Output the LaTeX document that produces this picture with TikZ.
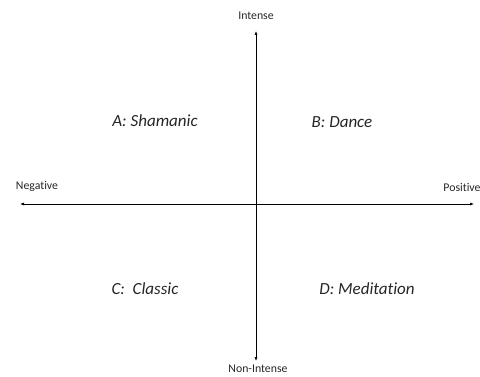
\documentclass[tikz,border=0pt]{standalone}
\usepackage{fontspec}
\setmainfont[Ligatures=NoCommon]{Carlito}
\usetikzlibrary{arrows.meta}
\begin{document}
\begin{tikzpicture}[x=1pt, y=-1pt,
    axislabel/.style={font=\fontsize{11.8}{14}\selectfont, text=black!85},
    quadlabel/.style={font=\fontsize{17}{20}\selectfont\itshape, text=black!85},
    axis/.style={{Latex[length=4pt,width=3pt]}-{Latex[length=4pt,width=3pt]}, line width=0.6pt}]
        \useasboundingbox (0,0) rectangle (480,377);

        % Axis ends
        \coordinate (top) at (256,31);
        \coordinate (bottom) at (256,361);
        \coordinate (left) at (20,204);
        \coordinate (right) at (474,204);

        % Axes
        \draw[axis] (bottom) -- (top);
        \draw[axis] (left) -- (right);

        % Axis labels
        \node[axislabel] (intense) at (256,16) {Intense};
        \node[axislabel] (nonintense) at (258,369) {Non-Intense};
        \node[axislabel] (negative) at (37,186) {Negative};
        \node[axislabel] (positive) at (462,187) {Positive};

        % Quadrants
        \node[quadlabel] (shamanic) at (155,121) {A: Shamanic};
        \node[quadlabel] (dance) at (342,122) {B: Dance};
        \node[quadlabel] (classic) at (145,289) {C:\ \ Classic};
        \node[quadlabel] (meditation) at (367,289) {D: Meditation};
\end{tikzpicture}
\end{document}
